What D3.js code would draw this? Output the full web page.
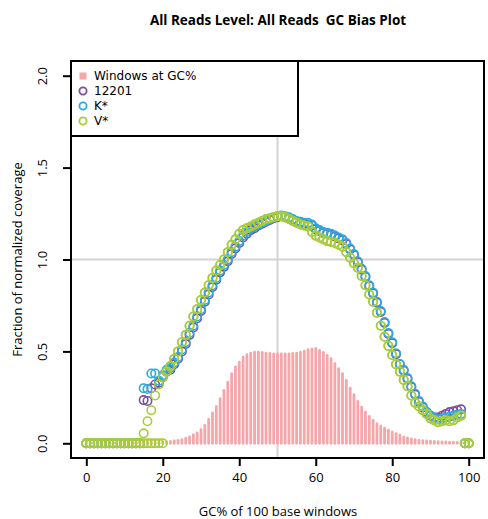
<!DOCTYPE html>
<html><head><meta charset="utf-8">
<script src="https://cdn.jsdelivr.net/npm/d3@7"></script>
<style>body{margin:0;background:#fff}svg{display:block;font-family:"Open Sans",Lato,sans-serif}text{white-space:pre}</style>
</head><body><svg id="c" width="488" height="519"></svg>
<script>
const gc = d3.range(0, 101);
const xTicks = [0, 20, 40, 60, 80, 100];
const yTicks = [0.0, 0.5, 1.0, 1.5, 2.0];
const yTickLabels = ["0.0", "0.5", "1.0", "1.5", "2.0"];
const legendLabels = ["Windows at GC%", "12201", "K*", "V*"];

// Fraction of windows at each GC% (0..100)
const windows = [0.003,0.003,0.003,0.003,0.003,0.003,0.003,0.003,0.003,0.003,
 0.003,0.003,0.003,0.003,0.003,0.004,0.004,0.005,0.005,0.006,
 0.007,0.008,0.010,0.013,0.016,0.020,0.028,0.035,0.047,0.056,
 0.074,0.098,0.130,0.165,0.200,0.243,0.288,0.333,0.379,0.415,
 0.442,0.469,0.482,0.491,0.496,0.496,0.495,0.491,0.489,0.487,
 0.486,0.486,0.486,0.487,0.489,0.491,0.496,0.502,0.509,0.514,
 0.516,0.505,0.495,0.478,0.460,0.433,0.406,0.379,0.342,0.300,
 0.264,0.228,0.197,0.170,0.147,0.125,0.107,0.094,0.083,0.071,
 0.062,0.053,0.045,0.034,0.029,0.024,0.020,0.016,0.014,0.013,
 0.011,0.010,0.009,0.008,0.007,0.006,0.006,0.005,0.005,0.004,0.004];

// 12201
const s12201 = [0,0,0,0,0,0,0,0,0,0, 0,0,0,0,0,0.235,0.23,0.30,0.32,0.33,
 0.36,0.39,0.40,0.43,0.46,0.50,0.54,0.59,0.63,0.68, 0.72,0.77,0.81,0.85,0.89,0.93,0.96,0.99,1.03,1.06,
 1.09,1.12,1.14,1.16,1.17,1.185,1.195,1.205,1.215,1.225, 1.23,1.235,1.23,1.225,1.215,1.205,1.20,1.195,1.19,1.185,
 1.165,1.155,1.145,1.14,1.135,1.125,1.115,1.105,1.085,1.055, 1.025,0.985,0.945,0.905,0.855,0.815,0.765,0.715,0.655,0.595,
 0.545,0.485,0.43,0.395,0.35,0.305,0.265,0.225,0.195,0.17, 0.15,0.14,0.14,0.15,0.16,0.17,0.175,0.18,0.185,0,0];

// K*
const sK = [0,0,0,0,0,0,0,0,0,0, 0,0,0,0,0,0.30,0.295,0.38,0.38,0.34,
 0.37,0.40,0.41,0.44,0.47,0.51,0.55,0.60,0.64,0.69, 0.73,0.78,0.82,0.86,0.90,0.94,0.97,1.00,1.04,1.07,
 1.10,1.13,1.15,1.17,1.18,1.19,1.20,1.21,1.22,1.23, 1.235,1.24,1.235,1.23,1.22,1.21,1.205,1.20,1.20,1.19,
 1.17,1.16,1.15,1.145,1.14,1.13,1.12,1.11,1.09,1.06, 1.03,0.99,0.95,0.91,0.86,0.82,0.77,0.72,0.66,0.60,
 0.55,0.49,0.43,0.40,0.355,0.31,0.27,0.23,0.20,0.17, 0.15,0.14,0.13,0.135,0.14,0.145,0.15,0.155,0.16,0,0];

// V* (first sample)
const sV1 = [0,0,0,0,0,0,0,0,0,0, 0,0,0,0,0,0.054,0.12,0.18,0.26,0.32,
 0.36,0.39,0.42,0.46,0.50,0.55,0.59,0.64,0.69,0.73, 0.78,0.82,0.86,0.90,0.94,0.97,1.00,1.04,1.08,1.11,
 1.14,1.16,1.17,1.18,1.19,1.20,1.21,1.22,1.225,1.23, 1.235,1.235,1.23,1.22,1.21,1.20,1.19,1.185,1.18,1.15,
 1.13,1.12,1.11,1.10,1.095,1.09,1.08,1.07,1.04,1.01, 0.98,0.955,0.91,0.86,0.81,0.77,0.71,0.64,0.58,0.53,
 0.48,0.43,0.39,0.345,0.31,0.26,0.22,0.20,0.18,0.16, 0.135,0.125,0.115,0.12,0.125,0.12,0.125,0.14,0.15,0,0];

// V* (second sample)
const sV2 = [0,0,0,0,0,0,0,0,0,0, 0,0,0,0,0,0,0,0,0,0,
 0,0.39,0.42,0.46,0.50,0.55,0.59,0.64,0.69,0.73, 0.78,0.82,0.86,0.90,0.94,0.97,1.00,1.04,1.08,1.11,
 1.14,1.16,1.17,1.18,1.19,1.20,1.21,1.22,1.225,1.23, 1.235,1.235,1.23,1.22,1.21,1.20,1.19,1.185,1.18,1.15,
 1.13,1.12,1.11,1.10,1.095,1.09,1.08,1.07,1.04,1.01, 0.98,0.955,0.91,0.86,0.81,0.77,0.71,0.64,0.58,0.53,
 0.48,0.43,0.39,0.345,0.31,0.26,0.22,0.20,0.18,0.16, 0.135,0.125,0.115,0.12,0.125,0.12,0.125,0.14,0.15,0,0];

const barColor = "#f4a6a9";
const series = [
  {name: "12201", values: s12201, color: "#7b4fa0"},
  {name: "K*", values: sK, color: "#2aace2"},
  {name: "V*", values: sV1, color: "#a8cd3a"},
  {name: "V*", values: sV2, color: "#a8cd3a"}
];

const FONT = "'Open Sans',Lato,sans-serif";
const svg = d3.select("#c");
const L = 71, R = 484, T = 61, B = 458;
const x = d3.scaleLinear().domain([-4, 104]).range([L, R]);
const y = d3.scaleLinear().domain([-0.08, 2.08]).range([B, T]);

// grid lines
svg.append("line").attr("x1", x(50)).attr("x2", x(50)).attr("y1", T).attr("y2", B)
  .attr("stroke", "#d3d3d3").attr("stroke-width", 2);
svg.append("line").attr("x1", L).attr("x2", R).attr("y1", y(1)).attr("y2", y(1))
  .attr("stroke", "#d3d3d3").attr("stroke-width", 2);

// bars
svg.append("g").selectAll("line").data(gc).join("line")
  .attr("x1", d => x(d)).attr("x2", d => x(d))
  .attr("y1", y(0)).attr("y2", d => y(windows[d]))
  .attr("stroke", barColor).attr("stroke-width", 2.8).attr("stroke-linecap", "round");

// points
series.forEach(s => {
  svg.append("g").selectAll("circle").data(gc).join("circle")
    .attr("cx", d => x(d)).attr("cy", d => y(s.values[d]))
    .attr("r", 4.2).attr("fill", "none").attr("stroke", s.color).attr("stroke-width", 1.6);
});

// box
svg.append("rect").attr("x", L).attr("y", T).attr("width", R - L).attr("height", B - T)
  .attr("fill", "none").attr("stroke", "#000").attr("stroke-width", 2);

// x axis
const xa = svg.append("g").attr("transform", `translate(0,${B})`)
  .call(d3.axisBottom(x).tickValues(xTicks).tickSize(8).tickPadding(7));
xa.select(".domain").attr("d", `M${x(0)},0H${x(100)}`).attr("stroke-width", 2);
xa.selectAll(".tick line").attr("stroke-width", 2);
xa.selectAll("text").attr("font-size", 13).attr("fill", "#000").attr("font-family", FONT);

// y axis
const ya = svg.append("g").attr("transform", `translate(${L},0)`)
  .call(d3.axisLeft(y).tickValues(yTicks).tickFormat((d, i) => yTickLabels[i]).tickSize(8));
ya.select(".domain").attr("d", `M0,${y(0)}V${y(2)}`).attr("stroke-width", 2);
ya.selectAll(".tick line").attr("stroke-width", 2);
ya.selectAll("text").attr("font-size", 13).attr("fill", "#000")
  .attr("font-family", FONT)
  .attr("transform", "rotate(-90)").attr("x", 0).attr("y", -29).attr("dy", "0.35em")
  .attr("text-anchor", "middle");

// titles
svg.append("text").attr("x", 278).attr("y", 25).attr("text-anchor", "middle")
  .attr("font-size", 13.5).attr("font-weight", "bold").text("All Reads Level: All Reads  GC Bias Plot");
svg.append("text").attr("x", 278).attr("y", 516).attr("text-anchor", "middle")
  .attr("font-size", 13).text("GC% of 100 base windows");
svg.append("text").attr("transform", `translate(22,${y(1)}) rotate(-90)`).attr("text-anchor", "middle")
  .attr("font-size", 13).text("Fraction of normalized coverage");

// legend
const lg = svg.append("g");
lg.append("rect").attr("x", L).attr("y", T).attr("width", 227).attr("height", 75)
  .attr("fill", "#fff").attr("stroke", "#000").attr("stroke-width", 2);
const legColors = [barColor, "#7b4fa0", "#2aace2", "#a8cd3a"];
legendLabels.forEach((lab, i) => {
  const cy = 76 + i * 15;
  if (i === 0) {
    lg.append("rect").attr("x", 79.5).attr("y", cy - 3.5).attr("width", 7).attr("height", 7).attr("fill", barColor);
  } else {
    lg.append("circle").attr("cx", 83).attr("cy", cy).attr("r", 3.6)
      .attr("fill", "none").attr("stroke", legColors[i]).attr("stroke-width", 1.8);
  }
  lg.append("text").attr("x", 94).attr("y", cy).attr("dy", "0.35em")
    .attr("font-family", "'DejaVu Sans',sans-serif").attr("font-size", 12).text(lab);
});
</script></body></html>
